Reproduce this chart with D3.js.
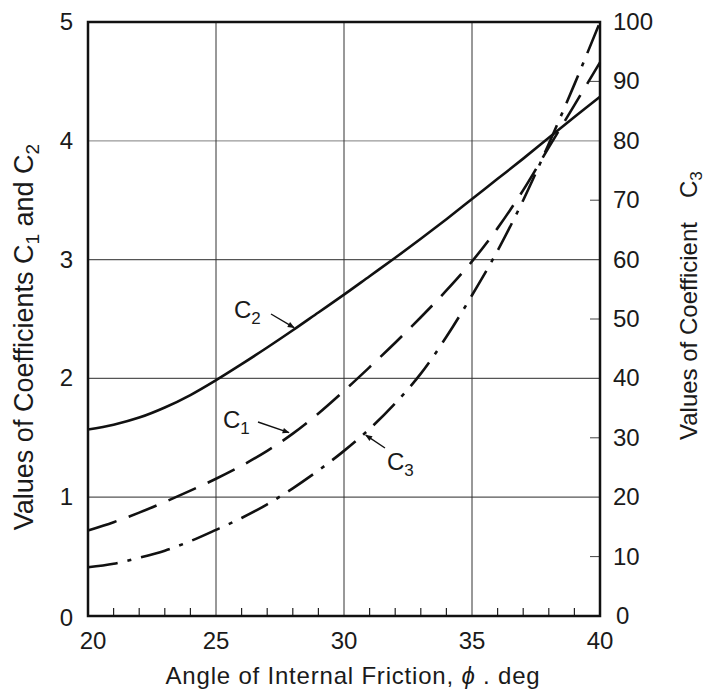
<!DOCTYPE html>
<html lang="en">
<head>
  <meta charset="UTF-8">
  <title>Coefficients C1, C2, C3</title>
  <style type="text/css">
    html, body { margin: 0; padding: 0; background: #fff; }
    svg text { font-family: "Liberation Sans", Arial, sans-serif; fill: #1a1a1a; }
  </style>
</head>
<body>
<figure id="chart" style="margin:0"></figure>

<script src="https://cdn.jsdelivr.net/npm/d3@7"></script>
<script type="text/javascript">
  // values
  var phi = [20, 21, 22, 23, 24, 25, 26, 27, 28, 29, 30, 31, 32, 33, 34, 35, 36, 37, 38, 39, 40];
  var c2 = [1.57, 1.61, 1.67, 1.755, 1.86, 1.985, 2.12, 2.26, 2.405, 2.555, 2.705, 2.86, 3.015, 3.175, 3.34, 3.51, 3.68, 3.85, 4.025, 4.20, 4.37];
  var c1 = [0.72, 0.79, 0.87, 0.96, 1.055, 1.155, 1.265, 1.39, 1.535, 1.705, 1.895, 2.095, 2.30, 2.515, 2.74, 2.985, 3.265, 3.585, 3.945, 4.30, 4.66];
  var c3 = [8.2, 8.8, 9.8, 11.0, 12.6, 14.5, 16.5, 18.8, 21.5, 24.5, 27.8, 31.5, 35.8, 40.8, 47.0, 54.0, 61.5, 70.0, 79.5, 89.5, 100];

  var xTicks = [20, 25, 30, 35, 40];
  var leftTicks = [0, 1, 2, 3, 4, 5];
  var rightTicks = [0, 10, 20, 30, 40, 50, 60, 70, 80, 90, 100];

  var W = 707, H = 690;
  // plot frame (window.top is reserved, so prefixed names)
  var pLeft = 88, pRight = 600, pTop = 22, pBottom = 616;

  var x = d3.scaleLinear().domain([20, 40]).range([pLeft, pRight]);
  var yL = d3.scaleLinear().domain([0, 5]).range([pBottom, pTop]);
  var yR = d3.scaleLinear().domain([0, 100]).range([pBottom, pTop]);

  var svg = d3.select("#chart").append("svg")
    .attr("width", W).attr("height", H)
    .style("display", "block");

  svg.append("rect").attr("width", W).attr("height", H).attr("fill", "#fff");

  var defs = svg.append("defs");
  defs.append("marker")
    .attr("id", "arrow")
    .attr("viewBox", "0 0 10 10")
    .attr("refX", 9).attr("refY", 5)
    .attr("markerWidth", 9).attr("markerHeight", 7)
    .attr("markerUnits", "userSpaceOnUse")
    .attr("orient", "auto")
    .append("path").attr("d", "M0,1 L10,5 L0,9 Z").attr("fill", "#111");

  // grid
  svg.append("g").selectAll("line")
    .data([1, 2, 3, 4]).join("line")
    .attr("x1", pLeft).attr("x2", pRight)
    .attr("y1", function(d) { return yL(d); }).attr("y2", function(d) { return yL(d); })
    .attr("stroke", function(d) { return d === 4 ? "#999" : "#555"; })
    .attr("stroke-width", 1.2);

  svg.append("g").selectAll("line")
    .data([25, 30, 35]).join("line")
    .attr("y1", pTop).attr("y2", pBottom)
    .attr("x1", function(d) { return x(d); }).attr("x2", function(d) { return x(d); })
    .attr("stroke", "#333").attr("stroke-width", 1);

  // minor ticks on bottom (each degree) and right (odd tens)
  svg.append("g").selectAll("line")
    .data(phi.filter(function(d) { return d % 5 !== 0; })).join("line")
    .attr("x1", function(d) { return x(d); }).attr("x2", function(d) { return x(d); })
    .attr("y1", pBottom).attr("y2", pBottom - 8)
    .attr("stroke", "#222").attr("stroke-width", 1.2);

  svg.append("g").selectAll("line")
    .data(rightTicks.filter(function(d) { return d % 20 !== 0; })).join("line")
    .attr("x1", pRight).attr("x2", pRight - 10)
    .attr("y1", function(d) { return yR(d); }).attr("y2", function(d) { return yR(d); })
    .attr("stroke", "#444").attr("stroke-width", 1);

  // frame
  svg.append("rect")
    .attr("x", pLeft).attr("y", pTop)
    .attr("width", pRight - pLeft).attr("height", pBottom - pTop)
    .attr("fill", "none").attr("stroke", "#111").attr("stroke-width", 2.5);

  // tick labels
  svg.append("g").selectAll("text")
    .data(xTicks).join("text")
    .attr("x", function(d) { return x(d) + (d === 20 ? 5 : 0); })
    .attr("y", 649)
    .attr("text-anchor", "middle")
    .attr("font-size", 24)
    .text(function(d) { return d; });

  svg.append("g").selectAll("text")
    .data(leftTicks).join("text")
    .attr("x", 73)
    .attr("y", function(d) { return yL(d) + (d === 0 ? 10 : 8); })
    .attr("text-anchor", "end")
    .attr("font-size", 24)
    .text(function(d) { return d; });

  svg.append("g").selectAll("text")
    .data(rightTicks).join("text")
    .attr("x", function(d) { return d === 0 ? 616 : 613; })
    .attr("y", function(d) { return yR(d) + 8; })
    .attr("text-anchor", "start")
    .attr("font-size", 24)
    .text(function(d) { return d; });

  // axis titles
  var xt = svg.append("text")
    .attr("x", 353).attr("y", 684)
    .attr("text-anchor", "middle")
    .attr("font-size", 24)
    .attr("letter-spacing", 0.8);
  xt.append("tspan").text("Angle of Internal Friction, ");
  xt.append("tspan").attr("font-style", "italic").text("\u03d5");
  xt.append("tspan").text(" . deg");

  var lt = svg.append("text")
    .attr("transform", "translate(33,337) rotate(-90)")
    .attr("text-anchor", "middle")
    .attr("font-size", 27);
  lt.append("tspan").text("Values of Coefficients C");
  lt.append("tspan").attr("font-size", 19).attr("dy", 6).text("1");
  lt.append("tspan").attr("dy", -6).text(" and C");
  lt.append("tspan").attr("font-size", 19).attr("dy", 6).text("2");

  var rt = svg.append("text")
    .attr("transform", "translate(697,440) rotate(-90)")
    .attr("text-anchor", "start")
    .attr("font-size", 24);
  rt.append("tspan").text("Values of Coefficient\u2002\u2002C");
  rt.append("tspan").attr("font-size", 17).attr("dy", 5).text("3");

  // curves
  var lineL = d3.line()
    .x(function(d, i) { return x(phi[i]); })
    .y(function(d) { return yL(d); })
    .curve(d3.curveCatmullRom);
  var lineR = d3.line()
    .x(function(d, i) { return x(phi[i]); })
    .y(function(d) { return yR(d); })
    .curve(d3.curveCatmullRom);

  svg.append("path").datum(c2).attr("d", lineL)
    .attr("fill", "none").attr("stroke", "#111").attr("stroke-width", 2.6);
  svg.append("path").datum(c1).attr("d", lineL)
    .attr("fill", "none").attr("stroke", "#111").attr("stroke-width", 2.6)
    .attr("stroke-dasharray", "30,13");
  svg.append("path").datum(c3).attr("d", lineR)
    .attr("fill", "none").attr("stroke", "#111").attr("stroke-width", 2.6)
    .attr("stroke-dasharray", "30,10,4,10");

  // curve labels with arrows
  function label(tx, ty, sub, ax1, ay1, ax2, ay2) {
    var t = svg.append("text").attr("x", tx).attr("y", ty).attr("font-size", 24);
    t.append("tspan").text("C");
    t.append("tspan").attr("font-size", 17).attr("dy", 6).text(sub);
    svg.append("line")
      .attr("x1", ax1).attr("y1", ay1).attr("x2", ax2).attr("y2", ay2)
      .attr("stroke", "#111").attr("stroke-width", 1.4)
      .attr("marker-end", "url(#arrow)");
  }
  label(234, 318, "2", 271, 314, x(28.05), yL(2.41) - 2);
  label(223, 428, "1", 258, 422, x(27.85), yL(1.535) - 1);
  label(387, 470, "3", 385, 448, x(30.85), yR(30.8) + 2);
</script>
</body>
</html>
